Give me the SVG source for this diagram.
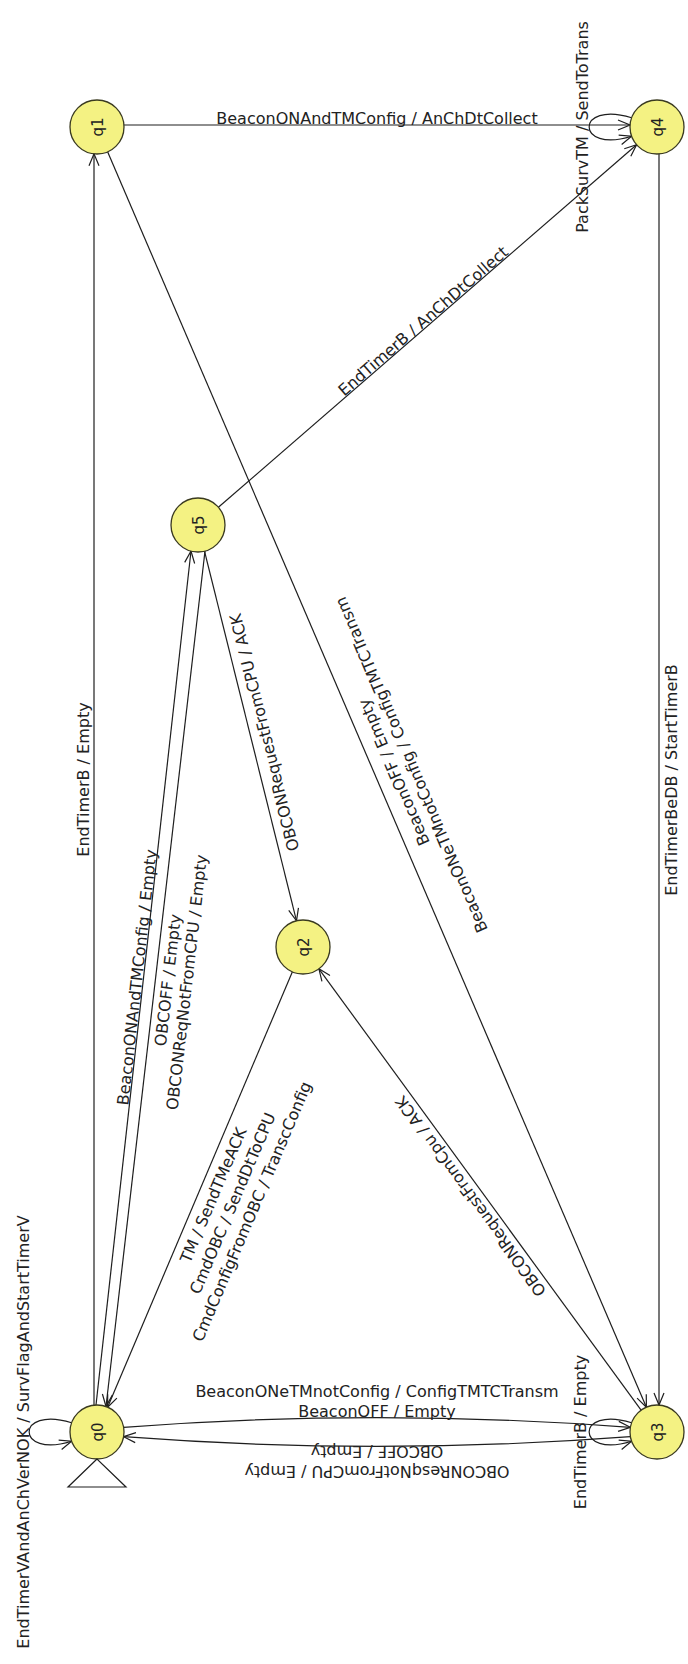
<svg xmlns="http://www.w3.org/2000/svg" width="688" height="1664" viewBox="0 0 688 1664">
<style>
.node circle{fill:#f4f283;stroke:#3a3a20;stroke-width:1.3}
.node text{font-family:"DejaVu Sans",sans-serif;font-size:15px;fill:#222;text-anchor:middle}
.edge{fill:none;stroke:#1e1e1e;stroke-width:1.2;marker-end:url(#arr)}
.lbl{font-family:"DejaVu Sans",sans-serif;font-size:16px;fill:#222;text-anchor:middle}
</style>
<defs>
<marker id="arr" markerUnits="userSpaceOnUse" markerWidth="14" markerHeight="12" viewBox="0 0 14 12" refX="13" refY="6" orient="auto"><path d="M1,1 L13,6 L1,11" fill="none" stroke="#1e1e1e" stroke-width="1.2"/></marker>
</defs>
<rect width="688" height="1664" fill="#fff"/>
<g id="connectors">
<path class="edge" d="M124,125 L630,125"/>
<path class="edge" d="M631.6,117.8 C575,100 575,154 631.6,136.2"/>
<path class="edge" d="M218.4,507.3 L636.6,144.7"/>
<path class="edge" d="M659,153.9 L659,1405.1"/>
<path class="edge" d="M107.6,151.8 L646.4,1407.2"/>
<path class="edge" d="M94,1405.2 L94,153.8"/>
<path class="edge" d="M96,1405 L191,551"/>
<path class="edge" d="M205,551 L106,1406.5"/>
<path class="edge" d="M204.5,551.2 L296.5,920.8"/>
<path class="edge" d="M292.4,971.8 L107.6,1407.2"/>
<path class="edge" d="M641.1,1410.2 L318.9,968.8"/>
<path class="edge" d="M123.6,1427.3 Q377,1408 630.4,1427.3"/>
<path class="edge" d="M630.4,1436.7 Q377,1456 123.6,1436.7"/>
<path class="edge" d="M631.6,1422.8 C575,1405 575,1459 631.6,1441.2"/>
<path class="edge" d="M71.6,1422.8 C15,1405 15,1459 71.6,1441.2"/>
<text class="lbl" x="377" y="124">BeaconONAndTMConfig / AnChDtCollect</text>
<text class="lbl" transform="translate(588,127) rotate(-90)">PackSurvTM / SendToTrans</text>
<text class="lbl" transform="translate(426.8,325.2) rotate(-40.93)">EndTimerB / AnChDtCollect</text>
<text class="lbl" transform="translate(677,780) rotate(-90)">EndTimerBeDB / StartTimerB</text>
<text class="lbl" transform="translate(399.1,770) rotate(-113.2)">BeaconOFF / Empty</text>
<text class="lbl" transform="translate(416.5,762.6) rotate(-113.2)">BeaconONeTMnotConfig / ConfigTMTCTransm</text>
<text class="lbl" transform="translate(89,779.5) rotate(-90)">EndTimerB / Empty</text>
<text class="lbl" transform="translate(142.5,977.9) rotate(-83.65)">BeaconONAndTMConfig / Empty</text>
<text class="lbl" transform="translate(173.4,980.8) rotate(-83.4)">OBCOFF / Empty</text>
<text class="lbl" transform="translate(192.3,983) rotate(-83.4)">OBCONReqNotFromCPU / Empty</text>
<text class="lbl" transform="translate(269.9,731.2) rotate(-103.97)">OBCONRequestFromCPU / ACK</text>
<text class="lbl" transform="translate(218.4,1197.3) rotate(-66.97)">TM / SendTMeACK</text>
<text class="lbl" transform="translate(237.7,1205.5) rotate(-66.97)">CmdOBC / SendDtToCPU</text>
<text class="lbl" transform="translate(257,1213.7) rotate(-66.97)">CmdConfigFromOBC / TranscConfig</text>
<text class="lbl" transform="translate(475.2,1193) rotate(-126.1)">OBCONRequestFromCpu / ACK</text>
<text class="lbl" x="377" y="1397">BeaconONeTMnotConfig / ConfigTMTCTransm</text>
<text class="lbl" x="377" y="1417">BeaconOFF / Empty</text>
<text class="lbl" transform="translate(377,1446) rotate(180)">OBCOFF / Empty</text>
<text class="lbl" transform="translate(377,1466) rotate(180)">OBCONResqNotFromCPU / Empty</text>
<text class="lbl" transform="translate(586,1432) rotate(-90)">EndTimerB / Empty</text>
<text class="lbl" transform="translate(29,1432) rotate(-90)">EndTimerVAndAnChVerNOK / SurvFlagAndStartTimerV</text>
</g>
<g id="q1" class="node"><circle cx="97" cy="127" r="27"/><text transform="translate(102.5,127) rotate(-90)">q1</text></g>
<g id="q4" class="node"><circle cx="657" cy="127" r="27"/><text transform="translate(662.5,127) rotate(-90)">q4</text></g>
<g id="q5" class="node"><circle cx="198" cy="525" r="27"/><text transform="translate(203.5,525) rotate(-90)">q5</text></g>
<g id="q2" class="node"><circle cx="303" cy="947" r="27"/><text transform="translate(308.5,947) rotate(-90)">q2</text></g>
<g id="q0" class="node"><circle cx="97" cy="1432" r="27"/><text transform="translate(102.5,1432) rotate(-90)">q0</text><polygon points="97,1459 68,1487 126,1487" fill="#fff" stroke="#1e1e1e" stroke-width="1.2"/></g>
<g id="q3" class="node"><circle cx="657" cy="1432" r="27"/><text transform="translate(662.5,1432) rotate(-90)">q3</text></g>
</svg>
